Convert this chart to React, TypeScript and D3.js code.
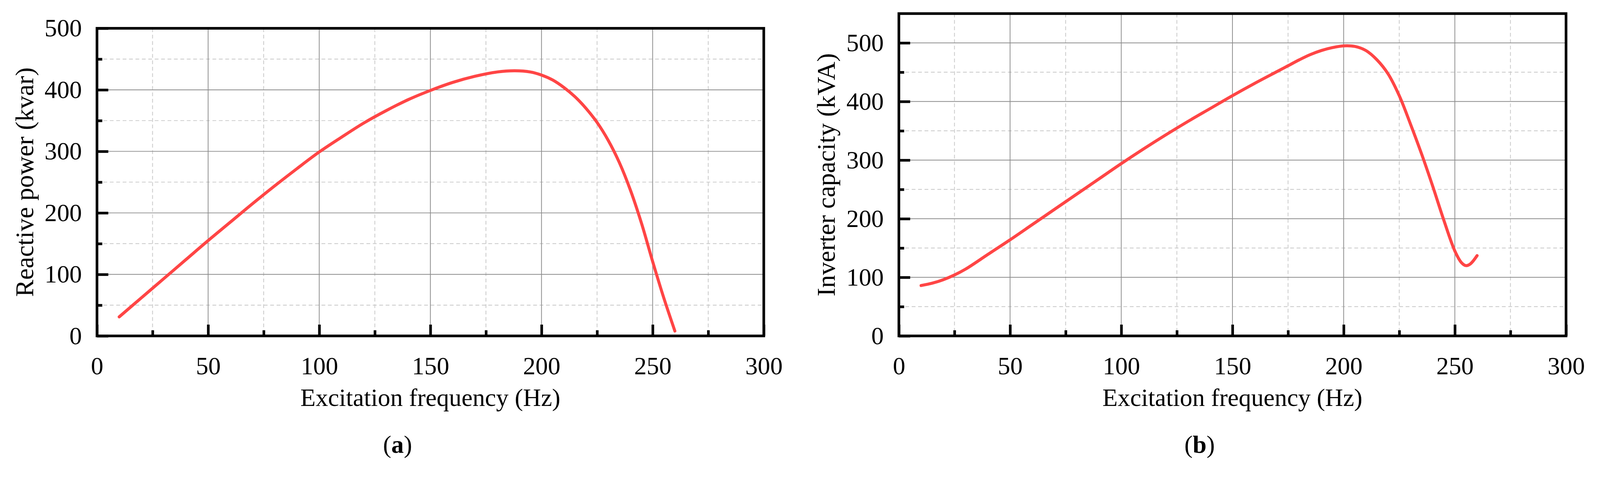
import React, { useEffect, useRef } from 'react';
import * as d3 from 'd3';

// Panel (a): reactive power vs excitation frequency
const freqA = [10, 20, 30, 40, 50, 60, 70, 80, 90, 100, 110, 120, 130, 140, 150, 160, 170, 180, 188, 195, 200, 205, 210, 215, 220, 225, 230, 235, 240, 245, 250, 255, 260];
const reactivePower = [31, 62, 93, 124, 155, 185, 215, 244, 272, 299, 323, 346, 366, 384, 399, 412, 422, 429, 431, 429, 424, 416, 404, 389, 370, 347, 318, 282, 237, 183, 121, 62, 8];

// Panel (b): inverter capacity vs excitation frequency
const freqB = [10, 15, 20, 25, 30, 40, 50, 60, 70, 80, 90, 100, 110, 120, 130, 140, 150, 160, 170, 175, 180, 185, 190, 195, 200, 205, 210, 215, 220, 225, 230, 235, 240, 245, 250, 253, 255, 257, 260];
const inverterCapacity = [86, 90, 96, 104, 114, 139, 164, 190, 216, 242, 268, 294, 319, 343, 366, 388, 410, 431, 451, 461, 471, 480, 487, 492, 495, 494, 487, 471, 447, 410, 362, 311, 256, 198, 145, 125, 120, 123, 137];

const xTicks = [0, 50, 100, 150, 200, 250, 300];
const xMinor = [25, 75, 125, 175, 225, 275];
const yTicksA = [0, 100, 200, 300, 400, 500];
const yMinorA = [50, 150, 250, 350, 450];
const yTicksB = [0, 100, 200, 300, 400, 500];
const yMinorB = [50, 150, 250, 350, 450, 550];

const W = 4240;
const H = 1249;
const FONT = '"Liberation Serif", "Times New Roman", serif';

interface PanelSpec {
  left: number;
  right: number;
  top: number;
  bottom: number;
  yMax: number;
  yTicks: number[];
  yMinor: number[];
  xs: number[];
  ys: number[];
  yTitle: string;
  yTitleX: number;
  letter: string;
}

const panels: PanelSpec[] = [
  {
    left: 257, right: 2024, top: 75, bottom: 890, yMax: 500,
    yTicks: yTicksA, yMinor: yMinorA, xs: freqA, ys: reactivePower,
    yTitle: 'Reactive power (kvar)', yTitleX: 88, letter: 'a',
  },
  {
    left: 2382, right: 4150, top: 36, bottom: 890, yMax: 550,
    yTicks: yTicksB, yMinor: yMinorB, xs: freqB, ys: inverterCapacity,
    yTitle: 'Inverter capacity (kVA)', yTitleX: 2212, letter: 'b',
  },
];

const App: React.FC = () => {
  const ref = useRef<SVGSVGElement>(null);

  useEffect(() => {
    if (!ref.current) return;
    document.body.style.margin = '0';
    document.body.style.overflow = 'hidden';

    const svg = d3.select(ref.current);
    svg.selectAll('*').remove();

    panels.forEach(p => {
      const x = d3.scaleLinear().domain([0, 300]).range([p.left, p.right]);
      const y = d3.scaleLinear().domain([0, p.yMax]).range([p.bottom, p.top]);
      const g = svg.append('g');

      // minor grid (dashed)
      g.selectAll('.vminor').data(xMinor).enter().append('line')
        .attr('x1', d => x(d)).attr('x2', d => x(d))
        .attr('y1', p.top).attr('y2', p.bottom)
        .attr('stroke', '#c8c8c8').attr('stroke-width', 2).attr('stroke-dasharray', '10 7');
      g.selectAll('.hminor').data(p.yMinor).enter().append('line')
        .attr('x1', p.left).attr('x2', p.right)
        .attr('y1', d => y(d)).attr('y2', d => y(d))
        .attr('stroke', '#c8c8c8').attr('stroke-width', 2).attr('stroke-dasharray', '10 7');

      // major grid
      g.selectAll('.vmajor').data(xTicks).enter().append('line')
        .attr('x1', d => x(d)).attr('x2', d => x(d))
        .attr('y1', p.top).attr('y2', p.bottom)
        .attr('stroke', '#8c8c8c').attr('stroke-width', 2);
      g.selectAll('.hmajor').data(p.yTicks).enter().append('line')
        .attr('x1', p.left).attr('x2', p.right)
        .attr('y1', d => y(d)).attr('y2', d => y(d))
        .attr('stroke', '#8c8c8c').attr('stroke-width', 2);

      // curve
      const line = d3.line<number>()
        .x((_, i) => x(p.xs[i]))
        .y(d => y(d))
        .curve(d3.curveCatmullRom.alpha(0.5));
      g.append('path')
        .attr('d', line(p.ys) || '')
        .attr('fill', 'none')
        .attr('stroke', '#ff4545')
        .attr('stroke-width', 8)
        .attr('stroke-linecap', 'round')
        .attr('stroke-linejoin', 'round');

      // axes (inward ticks)
      const xAxis = g.append('g').attr('transform', `translate(0,${p.bottom})`)
        .call(d3.axisBottom(x).tickValues(xTicks).tickSizeInner(-30).tickSizeOuter(0).tickPadding(55));
      const xAxisMinor = g.append('g').attr('transform', `translate(0,${p.bottom})`)
        .call(d3.axisBottom(x).tickValues(xMinor).tickSizeInner(-15).tickSizeOuter(0).tickFormat(() => ''));
      const yAxis = g.append('g').attr('transform', `translate(${p.left},0)`)
        .call(d3.axisLeft(y).tickValues(p.yTicks).tickSizeInner(-30).tickSizeOuter(0).tickPadding(40));
      const yAxisMinor = g.append('g').attr('transform', `translate(${p.left},0)`)
        .call(d3.axisLeft(y).tickValues(p.yMinor.filter(v => v < p.yMax)).tickSizeInner(-14).tickSizeOuter(0).tickFormat(() => ''));

      [xAxis, xAxisMinor, yAxis, yAxisMinor].forEach(a => {
        a.select('.domain').remove();
        a.selectAll('.tick line').attr('stroke', '#000').attr('stroke-width', 7);
        a.selectAll('.tick text')
          .attr('fill', '#000')
          .style('font-family', FONT)
          .style('font-size', '66px');
      });

      // frame
      g.append('rect')
        .attr('x', p.left).attr('y', p.top)
        .attr('width', p.right - p.left).attr('height', p.bottom - p.top)
        .attr('fill', 'none').attr('stroke', '#000').attr('stroke-width', 7);

      // titles
      const cx = (p.left + p.right) / 2;
      g.append('text')
        .attr('x', cx).attr('y', 1076)
        .attr('text-anchor', 'middle')
        .style('font-family', FONT).style('font-size', '66px')
        .text('Excitation frequency (Hz)');

      const cy = (p.top + p.bottom) / 2;
      g.append('text')
        .attr('transform', `translate(${p.yTitleX},${cy}) rotate(-90)`)
        .attr('text-anchor', 'middle')
        .style('font-family', FONT).style('font-size', '68px')
        .text(p.yTitle);

      const lab = g.append('text')
        .attr('x', cx - 87).attr('y', 1200)
        .attr('text-anchor', 'middle')
        .style('font-family', FONT).style('font-size', '66px');
      lab.append('tspan').text('(');
      lab.append('tspan').attr('font-weight', 'bold').text(p.letter);
      lab.append('tspan').text(')');
    });
  }, []);

  return (
    <svg
      ref={ref}
      viewBox={`0 0 ${W} ${H}`}
      preserveAspectRatio="xMinYMin meet"
      style={{ position: 'fixed', left: 0, top: 0, width: '100vw', height: '100vh', background: '#fff', display: 'block' }}
    />
  );
};

export default App;
